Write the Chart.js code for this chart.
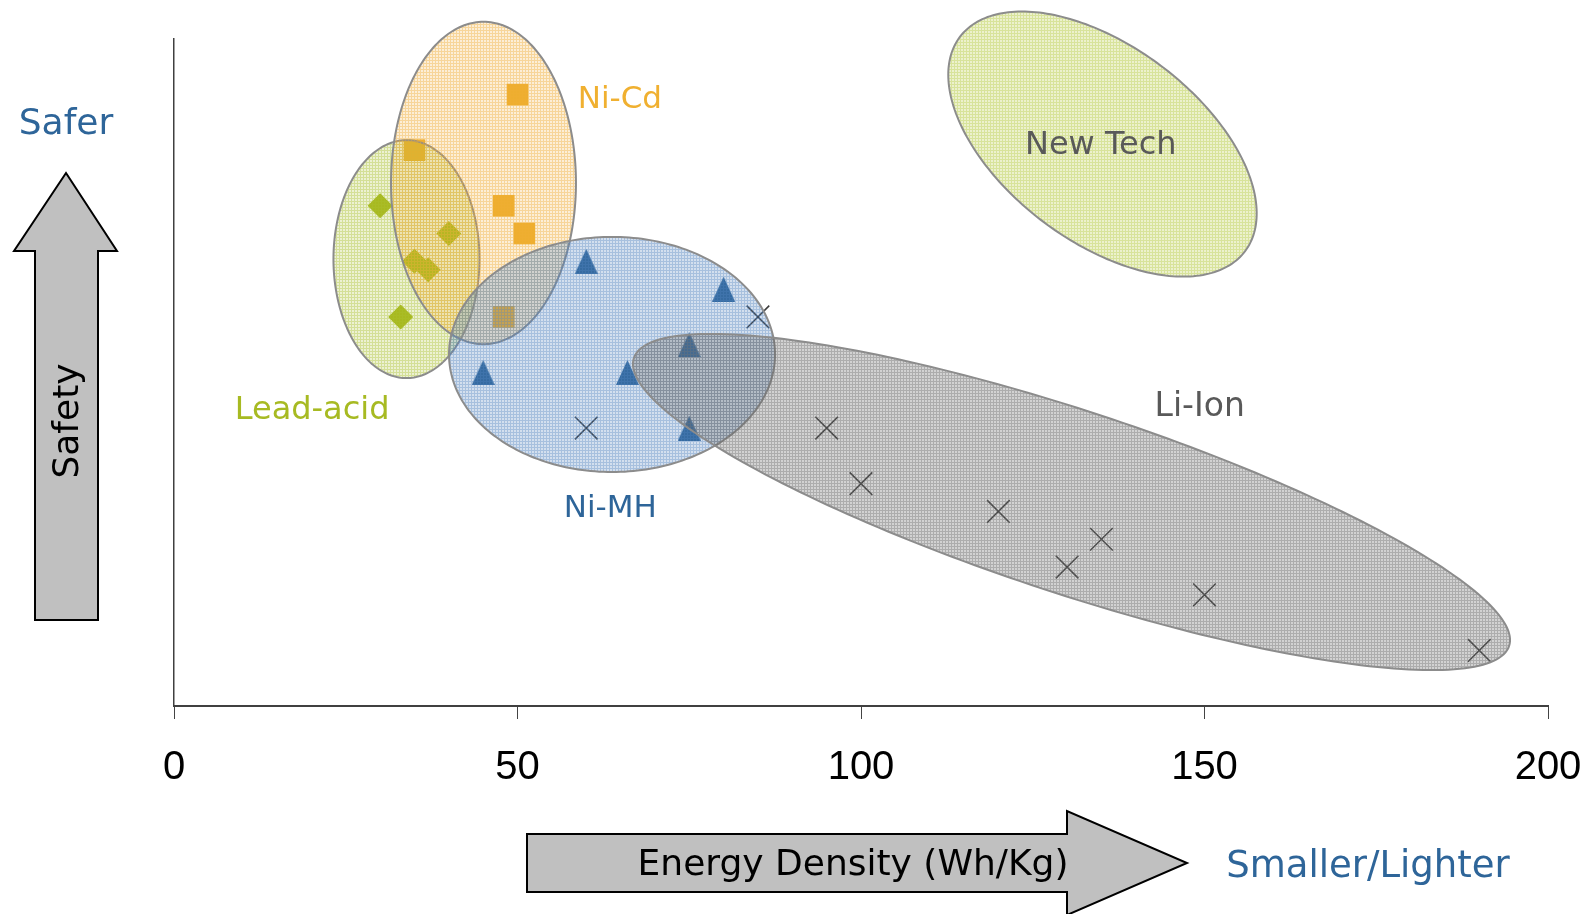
<!DOCTYPE html>
<html>
<head>
<meta charset="utf-8">
<style>
html,body{margin:0;padding:0;background:#ffffff;overflow:hidden}
#wrap{width:1593px;height:914px;position:relative}
canvas{display:block}
</style>
<script src="https://cdn.jsdelivr.net/npm/chart.js@4/dist/chart.umd.min.js"></script>
</head>
<body>
<div id="wrap"><canvas id="c" width="1593" height="914"></canvas></div>
<script>
// ---------- data ----------
const xTicks = [0, 50, 100, 150, 200];

const niCdX = [50, 35, 48, 51, 48];
const niCdY = [22, 20, 18, 17, 14];

const leadAcidX = [30, 40, 35, 37, 33];
const leadAcidY = [18, 17, 16, 15.7, 14];

const niMhX = [60, 80, 75, 45, 66, 75];
const niMhY = [16, 15, 13, 12, 12, 10];

const liIonX = [85, 60, 95, 100, 120, 135, 130, 150, 190];
const liIonY = [14, 10, 10, 8, 7, 6, 5, 4, 2];

// ---------- group regions (ellipses) in data units ----------
const regionNames   = ['Lead-acid', 'Ni-Cd', 'Ni-MH', 'Li-Ion', 'New Tech'];
const regionCentreX = [33.84, 45.05, 63.76, 130.64, 135.15];
const regionCentreY = [16.08, 18.82, 12.65, 7.34, 20.22];
const regionAxisU   = [[10.63, 0], [13.46, 0], [23.73, 0], [63.70, -5.18], [20.76, -3.853]];
const regionAxisV   = [[0, 4.28], [0, 5.8], [0, 4.23], [-4.156, -3.124], [-8.539, -2.811]];

// group label anchors in data units
const labelText = ['Ni-Cd', 'New Tech', 'Li-Ion', 'Ni-MH', 'Lead-acid'];
const labelX    = [64.9, 134.9, 149.3, 63.5, 20.1];
const labelY    = [21.82, 20.17, 10.74, 7.1, 10.63];

// ---------- styles ----------
const regionBase  = ['169,192,48', '240,172,52', '79,129,189', '105,105,105', '178,200,55'];
const regionLineA = [0.5, 0.5, 0.5, 0.55, 0.5];
const regionGapA  = [0.22, 0.2, 0.25, 0.3, 0.25];
const labelColor  = ['#F0B030', '#595959', '#595959', '#2E6599', '#A7BA22'];
const labelSize   = [31, 32, 33, 31, 32];

function makePattern(ctx, base, lineA, gapA) {
  const c = document.createElement('canvas');
  c.width = 3; c.height = 3;
  const g = c.getContext('2d');
  g.fillStyle = 'rgba(' + base + ',' + gapA + ')';
  g.fillRect(0, 0, 3, 3);
  g.clearRect(0, 0, 3, 1);
  g.clearRect(0, 0, 1, 3);
  g.fillStyle = 'rgba(' + base + ',' + lineA + ')';
  g.fillRect(0, 0, 3, 1);
  g.fillRect(0, 1, 1, 2);
  return ctx.createPattern(c, 'repeat');
}

function triangleImage(color) {
  const c = document.createElement('canvas');
  c.width = 23; c.height = 25;
  const g = c.getContext('2d');
  g.fillStyle = color;
  g.beginPath();
  g.moveTo(11.5, 0);
  g.lineTo(23, 25);
  g.lineTo(0, 25);
  g.closePath();
  g.fill();
  return c;
}

function pts(xs, ys) { return xs.map((x, i) => ({x: x, y: ys[i]})); }

const regionPlugin = {
  id: 'regions',
  afterDatasetsDraw(chart) {
    const ctx = chart.ctx, xs = chart.scales.x, ys = chart.scales.y;
    for (let k = 0; k < regionNames.length; k++) {
      ctx.save();
      ctx.beginPath();
      const N = 240;
      for (let i = 0; i <= N; i++) {
        const t = i / N * Math.PI * 2;
        const X = regionCentreX[k] + regionAxisU[k][0] * Math.cos(t) + regionAxisV[k][0] * Math.sin(t);
        const Y = regionCentreY[k] + regionAxisU[k][1] * Math.cos(t) + regionAxisV[k][1] * Math.sin(t);
        const px = xs.getPixelForValue(X), py = ys.getPixelForValue(Y);
        if (i === 0) ctx.moveTo(px, py); else ctx.lineTo(px, py);
      }
      ctx.closePath();
      ctx.fillStyle = makePattern(ctx, regionBase[k], regionLineA[k], regionGapA[k]);
      ctx.fill();
      ctx.lineWidth = 2;
      ctx.strokeStyle = '#8c8c8c';
      ctx.stroke();
      ctx.restore();
    }
  }
};

const decorPlugin = {
  id: 'decor',
  afterDraw(chart) {
    const ctx = chart.ctx, xs = chart.scales.x, ys = chart.scales.y;
    ctx.save();
    // group labels
    ctx.textAlign = 'center';
    ctx.textBaseline = 'middle';
    for (let i = 0; i < labelText.length; i++) {
      ctx.font = labelSize[i] + 'px "DejaVu Sans"';
      ctx.fillStyle = labelColor[i];
      ctx.fillText(labelText[i], xs.getPixelForValue(labelX[i]), ys.getPixelForValue(labelY[i]));
    }
    // vertical "Safety" arrow
    ctx.beginPath();
    ctx.moveTo(66, 173);
    ctx.lineTo(117, 251);
    ctx.lineTo(98, 251);
    ctx.lineTo(98, 620);
    ctx.lineTo(35, 620);
    ctx.lineTo(35, 251);
    ctx.lineTo(14, 251);
    ctx.closePath();
    ctx.fillStyle = '#c0c0c0';
    ctx.fill();
    ctx.lineWidth = 2;
    ctx.strokeStyle = '#000';
    ctx.stroke();
    // horizontal "Energy Density" arrow
    ctx.beginPath();
    ctx.moveTo(527, 834);
    ctx.lineTo(1067, 834);
    ctx.lineTo(1067, 811);
    ctx.lineTo(1187, 863);
    ctx.lineTo(1067, 915);
    ctx.lineTo(1067, 892);
    ctx.lineTo(527, 892);
    ctx.closePath();
    ctx.fill();
    ctx.stroke();
    // texts
    ctx.textBaseline = 'alphabetic';
    ctx.textAlign = 'center';
    ctx.fillStyle = '#2E6599';
    ctx.font = '36px "DejaVu Sans"';
    ctx.fillText('Safer', 66, 134);
    ctx.font = '37px "DejaVu Sans"';
    ctx.fillText('Smaller/Lighter', 1368, 877);
    ctx.fillStyle = '#000';
    ctx.font = '36px "DejaVu Sans"';
    ctx.fillText('Energy Density (Wh/Kg)', 853, 875);
    ctx.save();
    ctx.translate(78, 421);
    ctx.rotate(-Math.PI / 2);
    ctx.fillText('Safety', 0, 0);
    ctx.restore();
    ctx.restore();
  }
};

const chart = new Chart(document.getElementById('c').getContext('2d'), {
  type: 'scatter',
  data: {
    datasets: [
      { label: 'Ni-Cd', data: pts(niCdX, niCdY), pointStyle: 'rect', pointRadius: 15.3,
        backgroundColor: '#EEB02F', borderWidth: 0 },
      { label: 'Lead-acid', data: pts(leadAcidX, leadAcidY), pointStyle: 'rectRot', pointRadius: 12.5,
        backgroundColor: '#A8B81C', borderWidth: 0 },
      { label: 'Ni-MH', data: pts(niMhX, niMhY), pointStyle: triangleImage('#2E6599'), pointRadius: 12,
        backgroundColor: '#2E6599', borderWidth: 0 },
      { label: 'Li-Ion', data: pts(liIonX, liIonY), pointStyle: 'crossRot', pointRadius: 16,
        borderColor: '#3a3a3a', borderWidth: 1.5, backgroundColor: '#3a3a3a' }
    ]
  },
  options: {
    responsive: false,
    animation: false,
    events: [],
    layout: { padding: { left: 174, right: 45, top: 39, bottom: 97 } },
    plugins: { legend: { display: false }, tooltip: { enabled: false } },
    scales: {
      x: {
        type: 'linear', min: 0, max: 200,
        afterBuildTicks: axis => { axis.ticks = xTicks.map(v => ({ value: v })); },
        afterFit: axis => { axis.paddingLeft = 0; axis.paddingRight = 0; },
        ticks: { font: { family: 'Liberation Sans', size: 40 }, color: '#000', padding: 25, maxRotation: 0 },
        grid: { drawOnChartArea: false, drawTicks: true, tickLength: 13, color: '#444', lineWidth: 1 },
        border: { display: true, color: '#404040', width: 2 }
      },
      y: {
        type: 'linear', min: 0, max: 24,
        ticks: { display: false },
        grid: { display: false, drawTicks: false },
        border: { display: true, color: '#404040', width: 1.5 }
      }
    }
  },
  plugins: [regionPlugin, decorPlugin]
});
</script>
</body>
</html>
